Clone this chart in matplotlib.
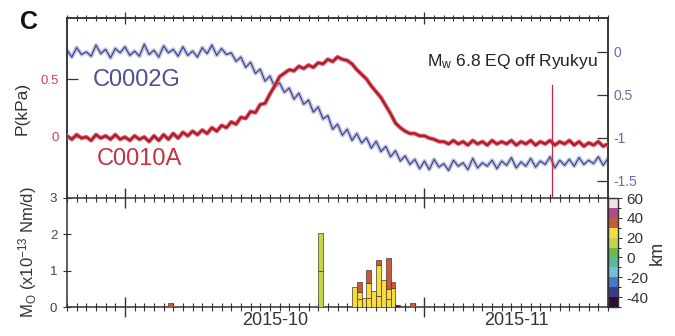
import numpy as np
import matplotlib
matplotlib.use("Agg")
import matplotlib as mpl
import matplotlib.pyplot as plt
import matplotlib.dates as mdates
from matplotlib.colors import ListedColormap, BoundaryNorm
import matplotlib.transforms as mtransforms

plt.rcParams['font.family'] = ['Liberation Sans', 'DejaVu Sans']
plt.rcParams['mathtext.fontset'] = 'custom'
plt.rcParams['mathtext.rm'] = 'Liberation Sans'
plt.rcParams['mathtext.it'] = 'Liberation Sans:italic'

# ---------------- data ----------------
origin = np.datetime64('2015-10-01T00:00')
t_days = np.arange(-6.0, 50.01, 0.5)          # sampling times, days from 2015-10-01

# C0002G pressure (kPa, right axis)
p_c0002g = [
    0.02, -0.06, 0.05, -0.03, 0.00, -0.05, 0.08, -0.02, 0.03, -0.07, 0.04, -0.01,
    0.06, -0.04, 0.01, -0.05, 0.09, -0.03, 0.02, -0.06, 0.07, -0.01, 0.03, -0.05,
    0.06, -0.04, 0.01, -0.06, 0.05, -0.02, 0.08, -0.04, 0.04, -0.03,
    -0.01, -0.11, -0.06, -0.18, -0.12, -0.25, -0.20, -0.34, -0.28, -0.41,
    -0.36, -0.47, -0.42, -0.55, -0.48, -0.61, -0.56, -0.70, -0.64, -0.78,
    -0.74, -0.90, -0.84, -0.97, -0.90, -1.03, -0.95, -1.06, -1.00, -1.12,
    -1.04, -1.16, -1.10, -1.22, -1.15, -1.27, -1.21, -1.31, -1.25, -1.36,
    -1.27, -1.37, -1.25, -1.34, -1.30, -1.38, -1.26, -1.33, -1.29, -1.37,
    -1.24, -1.35, -1.29, -1.33, -1.26, -1.36, -1.27, -1.32, -1.23, -1.35,
    -1.28, -1.33, -1.24, -1.34, -1.27, -1.31, -1.22, -1.35, -1.26, -1.32,
    -1.25, -1.33, -1.23, -1.31, -1.26, -1.30, -1.22, -1.32, -1.24,
]

# C0010A pressure (kPa, left axis)
p_c0010a = [
    0.01, -0.02, 0.02, -0.01, 0.00, -0.03, 0.02, -0.01, 0.01, -0.02, 0.02, -0.02,
    0.00, -0.03, 0.01, -0.02, 0.00, -0.04, 0.01, -0.03, 0.02, -0.02, 0.03, -0.01,
    0.04, 0.01, 0.05, 0.02, 0.06, 0.03, 0.08, 0.05, 0.10, 0.08,
    0.13, 0.11, 0.17, 0.16, 0.22, 0.21, 0.28, 0.29, 0.37, 0.44,
    0.52, 0.55, 0.58, 0.57, 0.61, 0.59, 0.62, 0.60, 0.64, 0.63,
    0.67, 0.65, 0.69, 0.67, 0.66, 0.63, 0.58, 0.54, 0.50, 0.44,
    0.39, 0.34, 0.27, 0.20, 0.12, 0.08, 0.05, 0.03, 0.03, 0.01,
    0.01, -0.01, -0.02, -0.04, -0.04, -0.06, -0.03, -0.06, -0.04, -0.07,
    -0.03, -0.06, -0.04, -0.07, -0.03, -0.06, -0.04, -0.06, -0.03, -0.07,
    -0.04, -0.06, -0.03, -0.07, -0.04, -0.06, -0.03, -0.07, -0.04, -0.06,
    -0.03, -0.07, -0.04, -0.08, -0.05, -0.07, -0.04, -0.08, -0.06,
]

# moment-release events: half-day bin start (days from 2015-10-01), depth (km), Mo (x10^13 Nm/d)
ev_day = [4.5, 20.0, 20.0, 23.5, 24.0, 24.0, 24.0, 24.5, 25.0, 25.0, 25.0, 25.5,
          26.0, 26.0, 26.0, 26.5, 27.0, 27.0, 27.0, 27.5, 27.5, 28.0, 29.5]
ev_depth = [35, 15, 15, 25, 25, 25, 35, 25, 25, 25, 35, 25,
            25, 25, 35, 25, 25, 25, 35, 25, 35, -45, 35]
ev_mo = [0.10, 1.00, 1.03, 0.55, 0.22, 0.20, 0.28, 0.25, 0.25, 0.41, 0.36, 0.45,
         0.30, 0.86, 0.12, 0.74, 0.22, 0.28, 0.85, 0.52, 0.18, 0.06, 0.10]

eq_time = np.datetime64('2015-11-14T05:51')
eq_label = r'M$_\mathregular{w}$ 6.8 EQ off Ryukyu'

depth_bounds = [-50, -40, -30, -20, -10, 0, 10, 20, 30, 40, 50, 60]
depth_colors = ['#2a1030', '#353c8c', '#4a78c8', '#70c0e0', '#58b8a0', '#6cb848',
                '#c4d44c', '#f5dc40', '#c85a3c', '#b04c8c', '#f2e0ee']
depth_ticks = [-40, -20, 0, 20, 40, 60]

month_labels = ['2015-10', '2015-11']
month_label_pos = [np.datetime64('2015-10-16T12:00'), np.datetime64('2015-11-10T12:00')]
xmin, xmax = np.datetime64('2015-09-25'), np.datetime64('2015-11-20')

# ---------------- figure ----------------
W, H = 675, 336
fig = plt.figure(figsize=(W / 100, H / 100), dpi=100)

def box(x0, y0, x1, y1):
    return [x0 / W, 1 - y1 / H, (x1 - x0) / W, (y1 - y0) / H]

ax1 = fig.add_axes(box(67, 18, 608, 198))
ax2 = fig.add_axes(box(67, 198, 608, 307))
cax = fig.add_axes(box(608, 198, 618, 307))
axr = ax1.twinx()

tx = origin + (t_days * 24).astype(int).astype('timedelta64[h]')
txd = tx.astype('datetime64[m]').astype(object)

frame = '#333333'
red, red_dark, red_light = '#c8283c', '#7a1424', '#e0606a'
blue, blue_dark, blue_light = '#6064aa', '#2c2c6c', '#a8acd8'

# pressure lines
axr.plot(txd, p_c0002g, color=blue_light, lw=3.0, alpha=0.7, zorder=1)
axr.plot(txd, p_c0002g, color=blue, lw=0.9, zorder=2)
axr.plot(txd, p_c0002g, color=blue_dark, lw=0.35, zorder=3)
ax1.plot(txd, p_c0010a, color=red_light, lw=3.0, zorder=4)
ax1.plot(txd, p_c0010a, color=red, lw=1.6, zorder=5)
ax1.plot(txd, p_c0010a, color=red_dark, lw=0.5, zorder=6)
ax1.set_zorder(axr.get_zorder() + 1)
ax1.patch.set_visible(False)

ax1.set_ylim(-0.526, 1.026)
axr.set_ylim(-1.70, 0.395)
for a in (ax1, axr, ax2):
    a.set_xlim(xmin, xmax)

eqd = eq_time.astype(object)
ax1.plot([eqd, eqd], [0.45, -0.526], color='#c8283c', lw=0.9, zorder=7)
ax1.text(0.98, 0.761, eq_label, transform=ax1.transAxes, ha='right', va='center',
         fontsize=12.5, color='#222222')
ax1.text(0.048, 0.656, 'C0002G', transform=ax1.transAxes, ha='left', va='center',
         fontsize=17, color='#4a4f96')
ax1.text(0.055, 0.217, 'C0010A', transform=ax1.transAxes, ha='left', va='center',
         fontsize=17, color='#c83040')

# moment-rate stacked bars
cmap = ListedColormap(depth_colors)
norm = BoundaryNorm(depth_bounds, cmap.N)
stack = {}
for d, z, m in zip(ev_day, ev_depth, ev_mo):
    b = stack.get(d, 0.0)
    x0 = (origin + np.timedelta64(int(d * 24), 'h')).astype('datetime64[m]').astype(object)
    ax2.bar(x0, m, width=0.5, bottom=b, align='edge', color=cmap(norm(z)),
            edgecolor='#4a3a28', linewidth=0.5, zorder=3)
    stack[d] = b + m
ax2.set_ylim(0, 3)

# axes styling
for a in (ax1, axr, ax2):
    for s in a.spines.values():
        s.set_color(frame)
        s.set_linewidth(1.1)
ax1.spines['bottom'].set_visible(False)
axr.spines['bottom'].set_visible(False)

for a in (ax1, ax2):
    a.xaxis.set_major_locator(mdates.MonthLocator())
    a.xaxis.set_minor_locator(mdates.DayLocator())
    a.xaxis.set_major_formatter(mpl.ticker.NullFormatter())
ax1.tick_params(axis='x', which='both', bottom=False, top=True, direction='inout',
                labelbottom=False, color=frame)
ax1.tick_params(axis='x', which='minor', length=5, width=0.8)
ax1.tick_params(axis='x', which='major', length=8, width=0.9)
ax2.tick_params(axis='x', which='both', bottom=True, top=True, direction='inout', color=frame)
ax2.tick_params(axis='x', which='minor', length=6, width=0.8)
ax2.tick_params(axis='x', which='major', length=14, width=1.0)
axr.tick_params(axis='x', which='both', bottom=False, top=False, labelbottom=False)

ax1.set_yticks([0, 0.5])
ax1.set_yticklabels(['0', '0.5'])
ax1.tick_params(axis='y', direction='in', length=8, width=0.9, color=frame,
                labelsize=9.5, labelcolor='#d04050', pad=6)
axr.set_yticks([0, -0.5, -1, -1.5])
axr.set_yticklabels(['0', '0.5', '-1', '-1.5'])
axr.tick_params(axis='y', direction='in', length=8, width=0.9, color=frame,
                labelsize=10, labelcolor='#6a6aa8', pad=4)
ax1.set_ylabel('P(kPa)', fontsize=12.5, color='#333333', labelpad=8)

ax2.set_yticks([0, 1, 2, 3])
ax2.tick_params(axis='y', direction='inout', length=6, width=0.8, color=frame,
                labelsize=9.5, labelcolor='#444444', pad=4)
ax2.set_ylabel(r'M$_\mathregular{O}$ (x10$^{\mathregular{-13}}$ Nm/d)',
               fontsize=12, color='#333333', labelpad=8)

trans = mtransforms.blended_transform_factory(ax2.transData, ax2.transAxes)
for lab, pos in zip(month_labels, month_label_pos):
    ax2.text(pos.astype(object), -0.12, lab, transform=trans, ha='center', va='center',
             fontsize=13, color='#333333')

cb = mpl.colorbar.ColorbarBase(cax, cmap=cmap, norm=norm, boundaries=depth_bounds,
                               ticks=depth_ticks)
cb.outline.set_edgecolor(frame)
cb.outline.set_linewidth(1.0)
cax.tick_params(labelsize=11, length=3, width=0.7, color=frame, labelcolor='#333333', pad=3)
cax.set_yticklabels([str(v) for v in depth_ticks])
cb.set_label('km', fontsize=13, color='#333333', labelpad=0)

fig.text(20 / W, 1 - 22 / H, 'C', fontsize=18, fontweight='bold', color='#111111',
         ha='left', va='center')

fig.savefig('out.png', dpi=100)
